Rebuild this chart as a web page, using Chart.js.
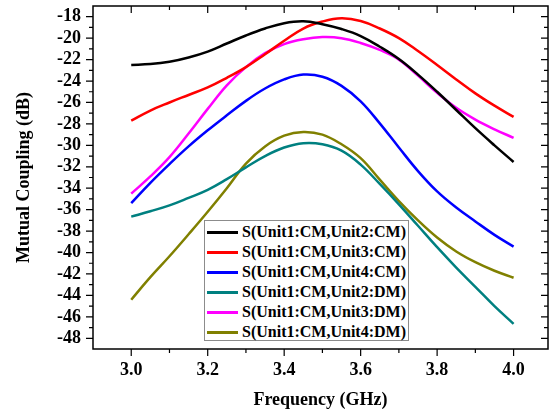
<!DOCTYPE html>
<html>
<head>
<meta charset="utf-8">
<script src="https://cdn.jsdelivr.net/npm/chart.js@4/dist/chart.umd.min.js"></script>
<style>
  html, body { margin: 0; padding: 0; background: #fff; }
  #wrap { position: relative; width: 555px; height: 414px; }
  #c { position: absolute; left: 0; top: 0; }
  #legend {
    position: absolute; left: 204px; top: 220px; width: 205px; height: 121px;
    border: 1px solid #8c8c8c; background: #fff; box-sizing: border-box;
    padding-top: 1px;
    font-family: "Liberation Serif", "Times New Roman", serif; font-weight: bold; font-size: 16px;
  }
  .row { height: 20px; display: flex; align-items: center; white-space: nowrap; }
  .swatch { width: 31px; height: 3px; margin-left: 2px; margin-right: 4px; }
</style>
</head>
<body>
<div id="wrap">
  <canvas id="c" width="555" height="414"></canvas>
  <div id="legend"></div>
</div>
<script>
// ---- data ----
const freq = [3.0, 3.05, 3.1, 3.15, 3.2, 3.25, 3.3, 3.35, 3.4, 3.45, 3.5,
              3.55, 3.6, 3.65, 3.7, 3.75, 3.8, 3.85, 3.9, 3.95, 4.0];
const seriesNames = [
  "S(Unit1:CM,Unit2:CM)",
  "S(Unit1:CM,Unit3:CM)",
  "S(Unit1:CM,Unit4:CM)",
  "S(Unit1:CM,Unit2:DM)",
  "S(Unit1:CM,Unit3:DM)",
  "S(Unit1:CM,Unit4:DM)"
];
const u2cm = [-22.5, -22.42, -22.2, -21.8, -21.25, -20.5, -19.75, -19.1, -18.6, -18.42, -18.7,
              -19.15, -19.8, -20.8, -21.95, -23.4, -25.0, -26.7, -28.4, -30.0, -31.55];
const u3cm = [-27.7, -26.75, -26.0, -25.3, -24.6, -23.7, -22.7, -21.5, -20.25, -19.1, -18.45,
              -18.15, -18.4, -19.1, -20.0, -21.2, -22.5, -23.85, -25.15, -26.3, -27.35];
const u4cm = [-35.4, -33.5, -31.75, -30.1, -28.6, -27.2, -25.85, -24.7, -23.85, -23.4, -23.6,
              -24.45, -25.9, -27.95, -30.2, -32.4, -34.3, -35.8, -37.1, -38.35, -39.45];
const u2dm = [-36.65, -36.15, -35.6, -34.9, -34.15, -33.15, -32.05, -31.0, -30.2, -29.8, -29.9,
              -30.5, -31.8, -33.6, -35.5, -37.5, -39.5, -41.4, -43.2, -45.0, -46.65];
const u3dm = [-34.5, -32.9, -31.1, -28.9, -26.6, -24.4, -22.7, -21.4, -20.55, -20.1, -19.9,
              -20.0, -20.45, -21.1, -22.0, -23.5, -25.1, -26.5, -27.6, -28.5, -29.3];
const u4dm = [-44.4, -42.3, -40.35, -38.3, -36.2, -34.0, -31.7, -30.1, -29.1, -28.75, -29.0,
              -29.9, -31.2, -33.2, -35.2, -37.0, -38.6, -39.9, -40.9, -41.7, -42.35];
const xTickValues = [3.0, 3.2, 3.4, 3.6, 3.8, 4.0];
const yTickValues = [-48, -46, -44, -42, -40, -38, -36, -34, -32, -30, -28, -26, -24, -22, -20, -18];

const colors = ["#000000", "#ff0000", "#0000ff", "#008080", "#ff00ff", "#808000"];
const allSeries = [u2cm, u3cm, u4cm, u2dm, u3dm, u4dm];

const FONT = '"Liberation Serif", "Times New Roman", serif';

const datasets = allSeries.map((vals, i) => ({
  label: seriesNames[i],
  data: freq.map((f, j) => ({ x: f, y: vals[j] })),
  borderColor: colors[i],
  backgroundColor: colors[i],
  borderWidth: 2.5,
  pointRadius: 0,
  tension: 0.4,
  fill: false
}));

// frame + ticks plugin (uses the chart's scales)
const framePlugin = {
  id: 'frame',
  afterDraw(chart) {
    const ctx = chart.ctx;
    const xs = chart.scales.x, ys = chart.scales.y;
    const a = chart.chartArea;
    ctx.save();
    ctx.strokeStyle = '#000';
    ctx.lineWidth = 1.5;
    ctx.strokeRect(a.left, a.top, a.right - a.left, a.bottom - a.top);
    ctx.lineWidth = 1.2;
    const MAJ = 7, MIN = 4;
    const xMajor = xs.ticks.map(t => t.value);
    const xMinor = [];
    for (let i = 0; i < xMajor.length - 1; i++) xMinor.push((xMajor[i] + xMajor[i + 1]) / 2);
    xMinor.push(xMajor[xMajor.length - 1] + 0.1);
    xMinor.unshift(xMajor[0] - 0.1);
    ctx.beginPath();
    xMajor.forEach(v => {
      const p = xs.getPixelForValue(v);
      ctx.moveTo(p, a.bottom); ctx.lineTo(p, a.bottom + MAJ);
      ctx.moveTo(p, a.top); ctx.lineTo(p, a.top + MAJ);
    });
    xMinor.forEach(v => {
      if (v <= xs.min || v >= xs.max) return;
      const p = xs.getPixelForValue(v);
      ctx.moveTo(p, a.bottom); ctx.lineTo(p, a.bottom + MIN);
      ctx.moveTo(p, a.top); ctx.lineTo(p, a.top + MIN);
    });
    const yMajor = ys.ticks.map(t => t.value);
    yMajor.forEach(v => {
      const p = ys.getPixelForValue(v);
      ctx.moveTo(a.left, p); ctx.lineTo(a.left - MAJ, p);
      ctx.moveTo(a.right, p); ctx.lineTo(a.right - MAJ, p);
    });
    for (let i = 0; i < yMajor.length; i++) {
      [yMajor[i] - 1, yMajor[i] + 1].forEach(v => {
        if (v <= ys.min || v >= ys.max) return;
        const p = ys.getPixelForValue(v);
        ctx.moveTo(a.left, p); ctx.lineTo(a.left - MIN, p);
        ctx.moveTo(a.right, p); ctx.lineTo(a.right - MIN, p);
      });
    }
    ctx.stroke();
    ctx.restore();
  }
};

const chart = new Chart(document.getElementById('c'), {
  type: 'line',
  data: { datasets },
  plugins: [framePlugin],
  options: {
    responsive: false,
    animation: false,
    devicePixelRatio: 1,
    layout: { padding: { top: 6, right: 7, left: 0, bottom: 0 } },
    plugins: { legend: { display: false }, tooltip: { enabled: false } },
    scales: {
      x: {
        type: 'linear', min: 2.9, max: 4.09,
        afterBuildTicks: s => { s.ticks = xTickValues.map(v => ({ value: v })); },
        afterFit: s => { s.height = 65; s.paddingLeft = 0; s.paddingRight = 0; },
        grid: { display: false, drawTicks: false },
        border: { display: false },
        ticks: {
          color: '#000', padding: 11, maxRotation: 0, autoSkip: false,
          font: { family: FONT, size: 18, weight: 'bold' },
          callback: v => Number(v).toFixed(1)
        },
        title: {
          display: true, text: 'Frequency (GHz)', color: '#000',
          font: { family: FONT, size: 18, weight: 'bold' },
          padding: { top: 0, bottom: 3 }
        }
      },
      y: {
        type: 'linear', min: -49, max: -17,
        afterBuildTicks: s => { s.ticks = yTickValues.map(v => ({ value: v })); },
        afterFit: s => { s.width = 93; s.paddingTop = 0; s.paddingBottom = 0; },
        grid: { display: false, drawTicks: false },
        border: { display: false },
        ticks: {
          color: '#000', padding: 12, autoSkip: false,
          font: { family: FONT, size: 18, weight: 'bold' },
          callback: v => String(v)
        },
        title: {
          display: true, text: 'Mutual Coupling (dB)', color: '#000',
          font: { family: FONT, size: 18, weight: 'bold' },
          padding: { top: 14, bottom: 0 }
        }
      }
    }
  }
});

// HTML legend built from the chart's datasets
const leg = document.getElementById('legend');
chart.data.datasets.forEach(ds => {
  const row = document.createElement('div');
  row.className = 'row';
  const sw = document.createElement('div');
  sw.className = 'swatch';
  sw.style.background = ds.borderColor;
  const tx = document.createElement('span');
  tx.textContent = ds.label;
  row.appendChild(sw); row.appendChild(tx);
  leg.appendChild(row);
});
</script>
</body>
</html>
